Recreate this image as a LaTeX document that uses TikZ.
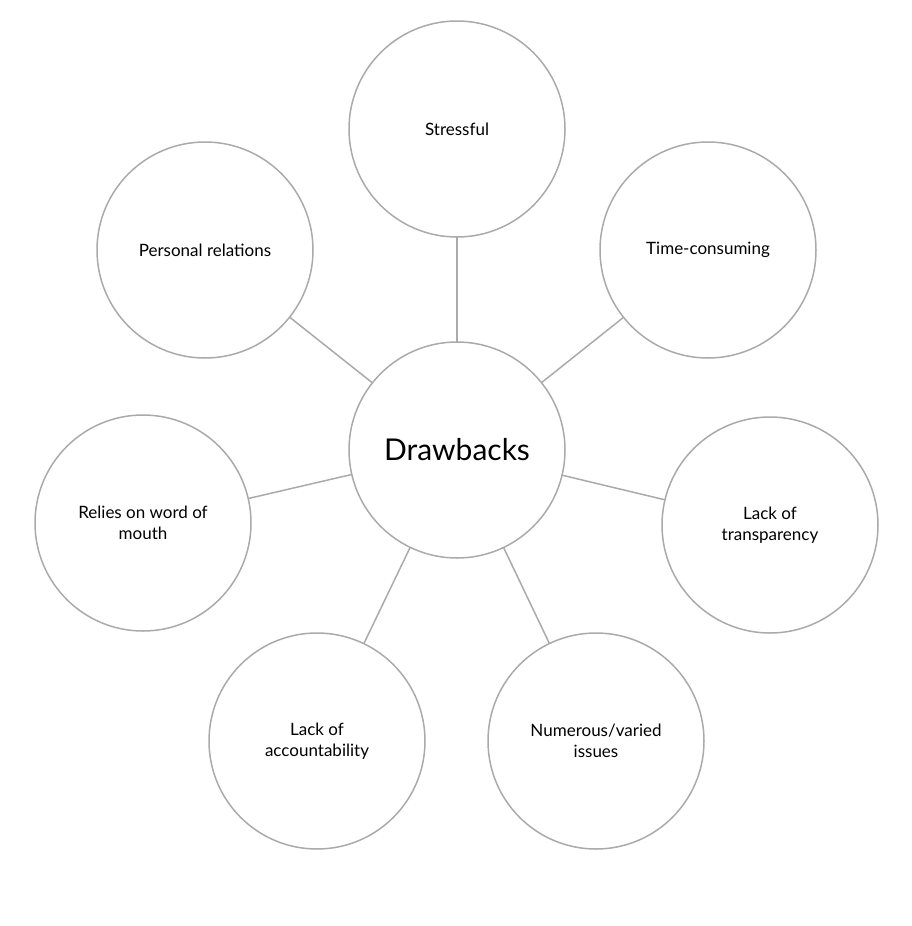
\documentclass[tikz,border=0pt]{standalone}
\usepackage{fontspec}
\setmainfont{Lato}
\tikzset{
  bubble/.style={circle, draw=linegray, line width=1.5pt, minimum size=216pt, inner sep=0pt, outer sep=0pt, align=center, font=\fontsize{17}{21}\selectfont},
  link/.style={draw=linegray, line width=1.5pt}
}
\definecolor{linegray}{RGB}{170,170,170}

\begin{document}
\begin{tikzpicture}[x=1pt, y=-1pt]
\useasboundingbox (0, 0) rectangle (911, 926);
\node[bubble, font=\fontsize{30}{34}\selectfont] (drawbacks) at (457, 450) {Drawbacks};
\node[bubble] (stressful) at (457, 129) {Stressful};
\node[bubble] (timecons) at (708, 250) {Time-consuming};
\node[bubble] (personal) at (205, 250) {Personal relations};
\node[bubble] (wordmouth) at (143, 523) {Relies on word of\\mouth};
\node[bubble] (transp) at (770, 525) {Lack of\\transparency};
\node[bubble] (account) at (317, 741) {Lack of\\accountability};
\node[bubble] (issues) at (596, 741) {Numerous/varied\\issues};
\draw[link] (drawbacks) -- (stressful);
\draw[link] (drawbacks) -- (timecons);
\draw[link] (drawbacks) -- (personal);
\draw[link] (drawbacks) -- (wordmouth);
\draw[link] (drawbacks) -- (transp);
\draw[link] (drawbacks) -- (account);
\draw[link] (drawbacks) -- (issues);
\end{tikzpicture}
\end{document}
